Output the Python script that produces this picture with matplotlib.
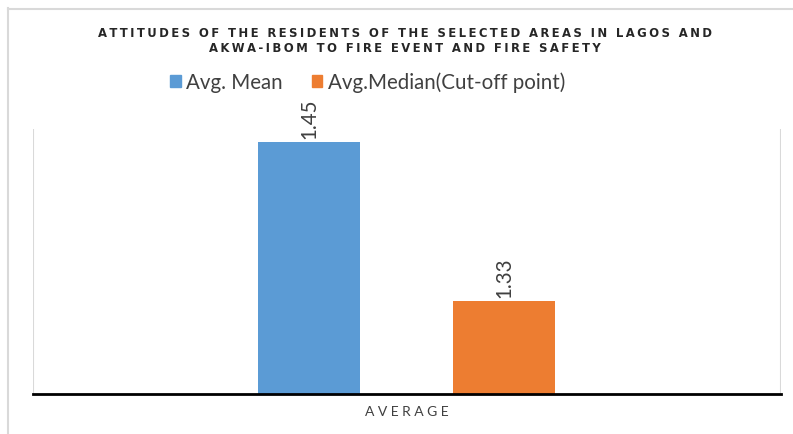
import matplotlib
matplotlib.use("Agg")
import matplotlib.pyplot as plt
from matplotlib.lines import Line2D
from matplotlib.patches import Rectangle

# ---- data ----
category = "AVERAGE"
series_names = ["Avg. Mean", "Avg.Median(Cut-off point)"]
series_values = [1.45, 1.33]
series_colors = ["#5B9BD5", "#ED7D31"]
title_lines = ["ATTITUDES OF THE RESIDENTS OF THE SELECTED AREAS IN LAGOS AND",
               "AKWA-IBOM TO FIRE EVENT AND FIRE SAFETY"]

W, H = 793, 435
fig = plt.figure(figsize=(W / 100, H / 100), dpi=100)
fig.patch.set_facecolor("white")

def spaced(s, sep="\u2009"):
    return sep.join(s)

# outer chart border (cropped)
gray = "#D9D9D9"
fig.add_artist(Line2D([7.5 / W, 7.5 / W], [0, 1 - 9 / H], color=gray, lw=1.5))
fig.add_artist(Line2D([7.5 / W, 1], [1 - 9.5 / H, 1 - 9.5 / H], color=gray, lw=1.5))

L, R, B, T = 33, 781, 395, 130
ax = fig.add_axes([L / W, 1 - B / H, (R - L) / W, (B - T) / H])
ax.set_xlim(-0.5, 0.5)
ax.set_ylim(1.26, 1.46)

offsets = [-0.131, 0.13]
width = 0.136
for name, v, c, o in zip(series_names, series_values, series_colors, offsets):
    ax.bar(o, v - 1.26, bottom=1.26, width=width, color=c, label=name, zorder=2)
    ax.text(o, v + 0.003, f"{v:.2f}", rotation=90, ha="center", va="bottom",
            fontsize=14.8, family="Lato", color="#404040", clip_on=False)

for s in ["top", "right", "left"]:
    ax.spines[s].set_visible(False)
ax.spines["bottom"].set_color("black")
ax.spines["bottom"].set_linewidth(2)
ax.axvline(-0.5, color=gray, lw=1.5, zorder=1)
ax.axvline(0.5, color=gray, lw=1.5, zorder=1)
ax.set_yticks([])
ax.set_xticks([0])
ax.set_xticklabels([spaced(category, " ")], fontsize=10, family="Lato", color="#404040")
ax.tick_params(axis="x", length=0, pad=8)

# title
fig.text(405 / W, 1 - 33.5 / H, spaced(title_lines[0]), ha="center", va="center",
         fontsize=8.4, fontweight="bold", family="DejaVu Sans", color="#262626")
fig.text(405 / W, 1 - 49 / H, spaced(title_lines[1]), ha="center", va="center",
         fontsize=8.4, fontweight="bold", family="DejaVu Sans", color="#262626")

# legend
handles = [Rectangle((0, 0), 1, 1, color=c) for c in series_colors]
leg = fig.legend(handles, series_names, loc="center", bbox_to_anchor=(367.5 / W, 1 - 83 / H),
                 ncol=2, frameon=False, prop={"family": "Lato", "size": 14.8},
                 handlelength=0.5, handleheight=0.5, handletextpad=0.25, columnspacing=1.45)
for t in leg.get_texts():
    t.set_color("#404040")

fig.savefig("out.png", dpi=100)
